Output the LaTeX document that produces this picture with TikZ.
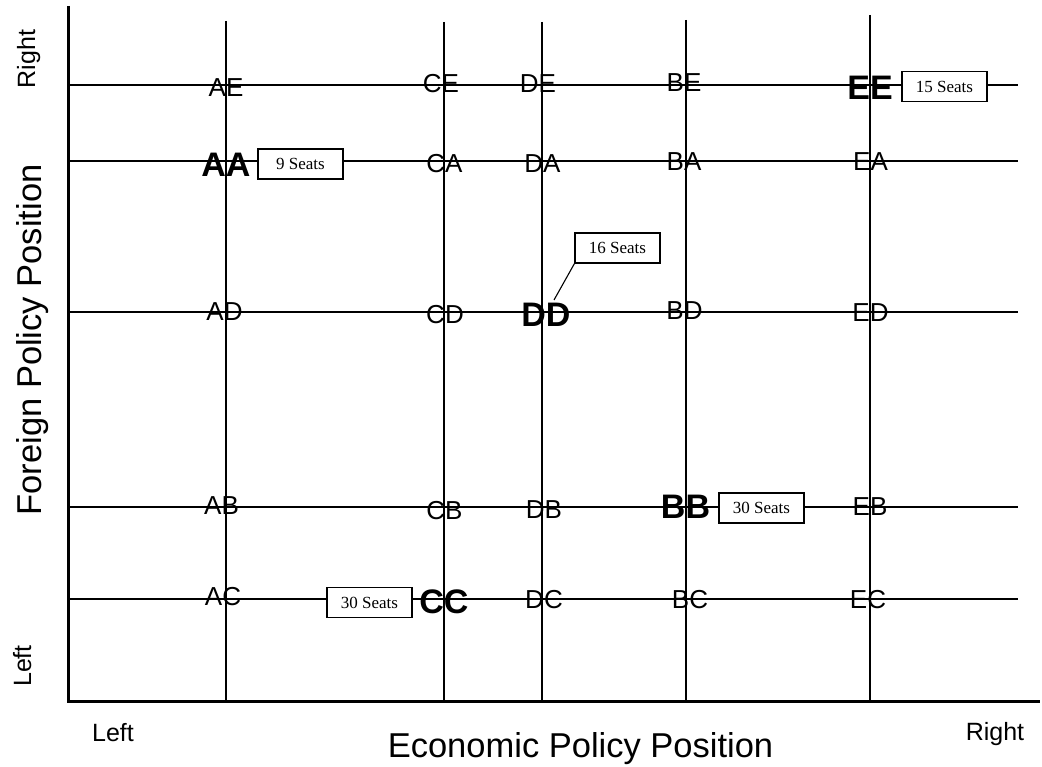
\documentclass[tikz,border=0pt]{standalone}
\usepackage{fontspec}
\setmainfont{Liberation Sans}
\newfontfamily\seriffont{Liberation Serif}
\begin{document}
\begin{tikzpicture}[x=1pt,y=-1pt,
  axisline/.style={line width=3pt},
  gridline/.style={line width=1.5pt},
  lbl/.style={inner sep=0pt, font=\fontsize{26}{26}\selectfont},
  party/.style={inner sep=0pt, font=\fontsize{34}{34}\selectfont\bfseries},
  seats/.style={draw, fill=white, line width=1.1pt, minimum width=85pt, minimum height=30pt, inner sep=0pt, font=\seriffont\fontsize{17}{17}\selectfont},
  axlbl/.style={inner sep=0pt, font=\fontsize{25}{25}\selectfont, anchor=base},
  axtitle/.style={inner sep=0pt, font=\fontsize{34.5}{34.5}\selectfont, anchor=base}]
\useasboundingbox (0,0) rectangle (1042,767);
% grid lines
\foreach \y/\n in {85/E,161/A,312/D,507/B,599/C}{
  \coordinate (h\n0) at (68,\y);
  \coordinate (h\n1) at (1018,\y);
  \draw[gridline] (h\n0) -- (h\n1);
}
\foreach \x/\t/\n in {226/21/A,444/22/C,542/22/D,686/20/B,870/15/E}{
  \coordinate (v\n0) at (\x,\t);
  \coordinate (v\n1) at (\x,701);
  \draw[gridline] (v\n0) -- (v\n1);
}
% axes
\coordinate (origin) at (68,701);
\coordinate (ytop) at (68,6);
\coordinate (xend) at (1040,701);
\draw[axisline] (ytop) -- (origin) -- (xend);
% labels row E
\node[lbl] (AE) at (226,88) {AE};
\node[lbl] (CE) at (441,84) {CE};
\node[lbl] (DE) at (538,84) {DE};
\node[lbl] (BE) at (684,83) {BE};
\node[party] (EE) at (870,87.5) {EE};
% row A
\node[party] (AA) at (226,164.5) {AA};
\node[lbl] (CA) at (444.5,163.5) {CA};
\node[lbl] (DA) at (542.5,163.5) {DA};
\node[lbl] (BA) at (684,162) {BA};
\node[lbl] (EA) at (870.5,162) {EA};
% row D
\node[lbl] (AD) at (224.5,312) {AD};
\node[lbl] (CD) at (445,315) {CD};
\node[party] (DD) at (546,315) {DD};
\node[lbl] (BD) at (684.5,311) {BD};
\node[lbl] (ED) at (870.5,313) {ED};
% row B
\node[lbl] (AB) at (221.5,505.5) {AB};
\node[lbl] (CB) at (444.5,511) {CB};
\node[lbl] (DB) at (544,510) {DB};
\node[party] (BB) at (685.5,507) {BB};
\node[lbl] (EB) at (870,507) {EB};
% row C
\node[lbl] (AC) at (223,597) {AC};
\node[party] (CC) at (444,602) {CC};
\node[lbl] (DC) at (544,600) {DC};
\node[lbl] (BC) at (690,600) {BC};
\node[lbl] (EC) at (868,600) {EC};
% seat boxes
\node[seats] (sAA) at (300.5,164) {9 Seats};
\node[seats] (sEE) at (944.5,86.5) {15 Seats};
\node[seats] (sDD) at (617.5,248) {16 Seats};
\node[seats] (sCC) at (369.5,602.5) {30 Seats};
\node[seats] (sBB) at (761.5,508) {30 Seats};
\coordinate (ddtip) at (554,300);
\draw[line width=1.1pt] (sDD.south west) -- (ddtip);
% axis labels
\node[axlbl, rotate=90] (yright) at (35,59) {Right};
\node[axtitle, rotate=90] (ytitle) at (41,340) {Foreign Policy Position};
\node[axlbl, rotate=90] (yleft) at (31,666) {Left};
\node[axlbl] (xleft) at (113,741) {Left};
\node[axtitle] (xtitle) at (580.5,757) {Economic Policy Position};
\node[axlbl] (xright) at (995,740) {Right};
\end{tikzpicture}
\end{document}
